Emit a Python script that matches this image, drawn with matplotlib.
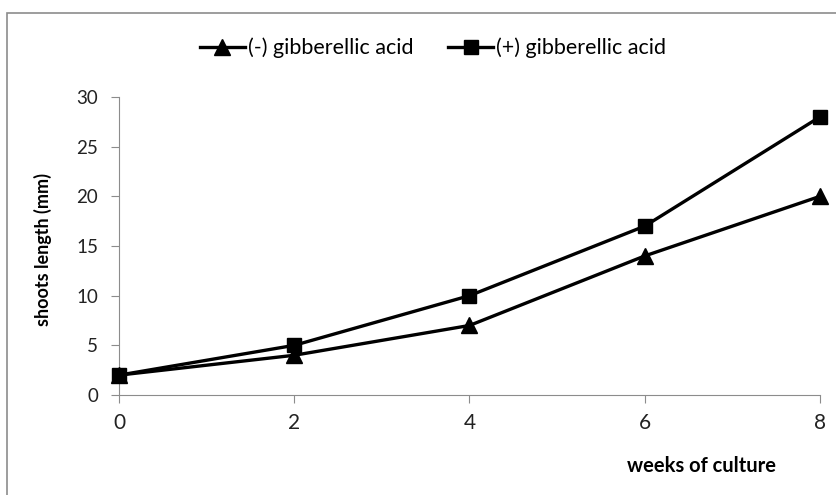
import matplotlib.pyplot as plt
from matplotlib.patches import Rectangle

weeks = [0, 2, 4, 6, 8]
minus_ga = [2, 4, 7, 14, 20]
plus_ga = [2, 5, 10, 17, 28]
y_ticks = [0, 5, 10, 15, 20, 25, 30]

plt.rcParams['font.family'] = ['Lato', 'DejaVu Sans']

fig = plt.figure(figsize=(8.37, 4.95), dpi=100)
# outer chart border (cropped on right and bottom)
fig.patches.append(Rectangle((7 / 837, -0.05), 1.0, 1 - 13 / 495 + 0.05,
                             transform=fig.transFigure, fill=False,
                             edgecolor='#8c8c8c', linewidth=1.2))

ax = fig.add_axes([119 / 837, 1 - 395 / 495, (820 - 119) / 837, (395 - 97) / 495])
ax.plot(weeks, minus_ga, color='black', linewidth=2.4, marker='^', markersize=11,
        label='(-) gibberellic acid', clip_on=False, zorder=3)
ax.plot(weeks, plus_ga, color='black', linewidth=2.4, marker='s', markersize=10.5,
        label='(+) gibberellic acid', clip_on=False, zorder=3)

ax.set_xlim(0, 8)
ax.set_ylim(0, 30)
ax.set_xticks(weeks)
ax.set_yticks(y_ticks)
for s in ['top', 'right']:
    ax.spines[s].set_visible(False)
for s in ['left', 'bottom']:
    ax.spines[s].set_color('#8c8c8c')
ax.tick_params(direction='out', length=6, color='#8c8c8c', labelcolor='#222222')
ax.tick_params(axis='x', labelsize=15, pad=7)
ax.tick_params(axis='y', labelsize=13.5, pad=9)

ax.set_ylabel('shoots length (mm)', fontsize=13, fontweight='bold')
ax.yaxis.set_label_coords(52 / 837, 1 - 249 / 495, transform=fig.transFigure)
fig.text(776 / 837, 1 - 466 / 495, 'weeks of culture', fontsize=14.5,
         fontweight='bold', ha='right', va='center')

fig.legend(loc='center', bbox_to_anchor=(433 / 837, 1 - 48 / 495), ncol=2,
           frameon=False, fontsize=15.5, handlelength=2.1, handletextpad=0.15,
           columnspacing=1.6)

fig.savefig('out.png', dpi=100)
